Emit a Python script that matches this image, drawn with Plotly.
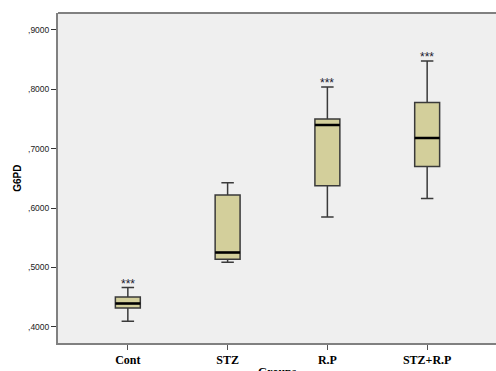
import plotly.graph_objects as go

groups = ["Cont", "STZ", "R.P", "STZ+R.P"]
lower_fence = [0.4095, 0.5090, 0.5847, 0.6160]
q1 = [0.4320, 0.5140, 0.6374, 0.6699]
median = [0.4394, 0.5251, 0.7396, 0.7177]
q3 = [0.4505, 0.6217, 0.7497, 0.7776]
upper_fence = [0.4662, 0.6424, 0.8035, 0.8473]
significance = ["***", "", "***", "***"]

y_tickvals = [0.4, 0.5, 0.6, 0.7, 0.8, 0.9]
y_ticktext = [",4000", ",5000", ",6000", ",7000", ",8000", ",9000"]

fig = go.Figure()
fig.add_trace(go.Box(
    x=groups, q1=q1, median=median, q3=q3,
    lowerfence=lower_fence, upperfence=upper_fence,
    fillcolor="#D3CF9B", line=dict(color="#3a3a3a", width=1.5),
    width=0.25, whiskerwidth=0.5, boxpoints=False, showlegend=False,
    hoverinfo="skip",
))
# thick median line overlay
fig.add_trace(go.Box(
    x=groups, q1=median, median=median, q3=median,
    lowerfence=median, upperfence=median,
    fillcolor="rgba(0,0,0,0)", line=dict(color="#000000", width=2.5),
    width=0.25, whiskerwidth=0, boxpoints=False, showlegend=False,
    hoverinfo="skip",
))

for g, s, u in zip(groups, significance, upper_fence):
    if s:
        fig.add_annotation(x=g, y=u, text=s, showarrow=False, yanchor="bottom",
                           yshift=-5, font=dict(family="Liberation Sans", size=12, color="#1a1a2e"))

fig.add_annotation(xref="paper", yref="paper", x=0.5, y=-0.062, yanchor="top",
                   text="<b>Groups</b>", showarrow=False,
                   font=dict(family="Liberation Serif", size=12, color="#000000"))
fig.add_annotation(xref="paper", yref="paper", x=-0.094, y=0.5, textangle=-90,
                   xanchor="center", yanchor="middle",
                   text="<b>G6PD</b>", showarrow=False,
                   font=dict(family="Liberation Sans", size=10, color="#000000"))
# top frame line
fig.add_shape(type="line", xref="paper", yref="paper", x0=0, x1=1, y0=1, y1=1,
              line=dict(color="#808080", width=2))

fig.update_layout(
    width=496, height=371,
    margin=dict(l=58, r=0, t=13, b=28),
    paper_bgcolor="#FFFFFF", plot_bgcolor="#EFEFEF",
    xaxis=dict(range=[-0.70, 3.69], showgrid=False, zeroline=False,
               showline=True, linecolor="#808080", linewidth=2,
               ticks="outside", ticklen=5, tickcolor="#555555",
               tickfont=dict(family="Liberation Serif", size=12, color="#000000"),
               tickprefix="<b>", ticksuffix="</b>"),
    yaxis=dict(range=[0.373, 0.928], showgrid=False, zeroline=False,
               showline=True, linecolor="#808080", linewidth=2,
               ticks="outside", ticklen=5, tickcolor="#333333",
               tickvals=y_tickvals, ticktext=y_ticktext,
               tickfont=dict(family="Liberation Sans", size=8.5, color="#222222")),
)

fig.write_html("out.html")
